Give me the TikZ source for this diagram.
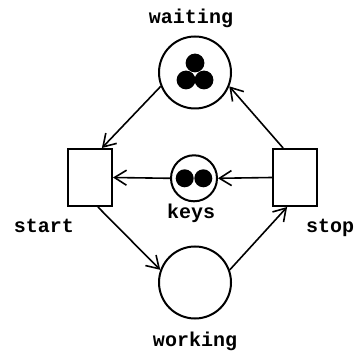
\documentclass[tikz,border=0pt]{standalone}
\usepackage{fontspec}
\setmonofont{Liberation Mono}
\usetikzlibrary{positioning,arrows,arrows.meta}

\begin{document}
\begin{tikzpicture}[
x=0.5pt, y=-0.5pt,
place/.style={circle, draw, line width=1pt, minimum size=36pt, inner sep=0pt},
transition/.style={rectangle, draw, line width=1pt, minimum width=22pt, minimum height=28.5pt, inner sep=0pt},
lbl/.style={font=\fontsize{10}{12}\selectfont\ttfamily\bfseries, anchor=base, inner sep=0pt},
arc/.style={-{Straight Barb[length=6pt,width=7.5pt]}, line width=0.8pt}]
\useasboundingbox (0,0) rectangle (356,356);
\node[place] (waiting) at (195,72.5) {};
\node[place] (working) at (195,282.5) {};
\node[place, minimum size=23pt] (keys) at (194,178.3) {};
\node[transition] (start) at (90,177.5) {};
\node[transition] (stop) at (295,177.5) {};

\node[lbl] (waitlbl) at (191,24) {waiting};
\node[lbl] (keyslbl) at (191,218.5) {keys};
\node[lbl] (startlbl) at (44,233) {start};
\node[lbl] (stoplbl) at (330,233) {stop};
\node[lbl] (worklbl) at (195,346) {working};

\fill (waiting) ++(0,-9.5) circle (4.7pt);
\fill (waiting) ++(-9,7.5) circle (4.7pt);
\fill (waiting) ++(9,7.5) circle (4.7pt);
\fill (keys) ++(-9.3,0) circle (4.5pt);
\fill (keys) ++(9.3,0) circle (4.5pt);

\draw[arc] (waiting.202) -- (start.68);
\draw[arc] (start.285) -- (working.160);
\draw[arc] (working.20) -- (stop.255);
\draw[arc] (stop.112) -- (waiting.338);
\draw[arc] (stop.west) -- (keys.east);
\draw[arc] (keys.west) -- (start.east);
\end{tikzpicture}
\end{document}
